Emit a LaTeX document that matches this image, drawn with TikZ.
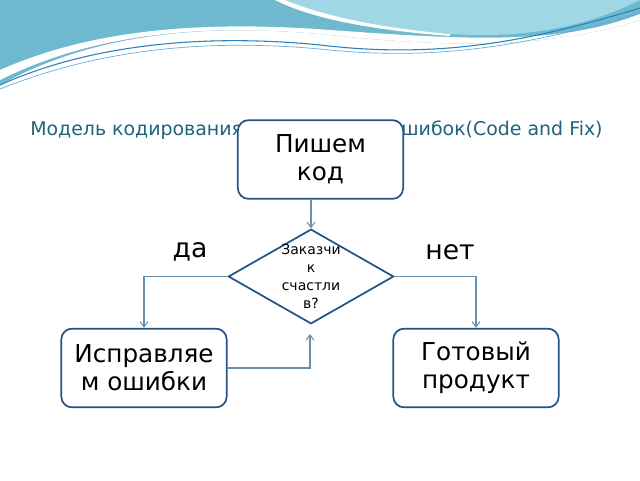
\documentclass[tikz,border=0pt]{standalone}
\usepackage{fontspec}
\setmainfont{DejaVu Sans}
\usetikzlibrary{shapes.geometric,arrows.meta}
\definecolor{boxb}{RGB}{35,85,135}
\definecolor{conn}{RGB}{105,145,175}
\definecolor{ttl}{RGB}{30,100,125}
\definecolor{wave1}{RGB}{110,185,205}
\definecolor{wave2}{RGB}{160,215,228}
\definecolor{wline}{RGB}{40,130,190}
\begin{document}
\begin{tikzpicture}[x=0.75pt,y=-0.75pt,
  box/.style={draw=boxb,line width=1.3pt,rounded corners=8pt,fill=white,minimum width=124pt,minimum height=59pt,align=center,font=\fontsize{18.5}{21}\selectfont,inner sep=1pt},
  conn/.style={draw=conn,line width=0.8pt},
  arr/.style={conn,-{Straight Barb[length=4pt,width=6pt]}}]
\useasboundingbox (0,0) rectangle (640,480);
\fill[white] (0,0) rectangle (640,480);
% waves
\fill[wave1] (0,0) -- (640,0) -- (640,20) .. controls (560,45) and (470,50) .. (330,35) .. controls (200,22) and (90,35) .. (0,85) -- cycle;
\fill[white] (0,70) .. controls (90,30) and (200,20) .. (330,30) .. controls (470,40) and (560,45) .. (640,14) -- (640,20) .. controls (560,45) and (470,50) .. (330,35) .. controls (200,22) and (90,35) .. (0,80) -- cycle;
\fill[wave2] (285,0) .. controls (320,15) and (380,28) .. (450,34) .. controls (540,40) and (600,20) .. (640,0) -- cycle;
\fill[white] (275,0) .. controls (310,18) and (370,30) .. (450,36) -- (450,34) .. controls (380,28) and (320,15) .. (285,0) -- cycle;
\draw[wline,line width=0.8pt] (0,85) .. controls (100,40) and (220,35) .. (320,45) .. controls (430,58) and (520,45) .. (640,8);
\draw[wline!70,line width=0.5pt] (0,89) .. controls (110,45) and (220,40) .. (320,49) .. controls (430,61) and (520,48) .. (640,13);
% title
\node[text=ttl,font=\fontsize{14.2}{16}\selectfont,anchor=west,inner sep=0pt] (title) at (30,130) {Модель кодирования и устранения ошибок(Code and Fix)};
% nodes
\node[box] (code) at (320.5,159.5) {Пишем\\код};
\node[draw=boxb,line width=1.3pt,fill=white,diamond,minimum width=124pt,minimum height=71pt,inner sep=0pt] (q) at (311,276.5) {};
\node[align=center,font=\fontsize{10.5}{13.5}\selectfont] (qt) at (311,276) {Заказчи\\к\\счастли\\в?};
\node[box] (fix) at (144,368) {Исправляе\\м ошибки};
\node[box] (done) at (476,368) {Готовый\\продукт};
\node[font=\fontsize{20}{22}\selectfont] (yes) at (190,252) {да};
\node[font=\fontsize{20}{22}\selectfont] (no) at (450,252) {нет};
\coordinate (back) at (310,334);
% connectors
\draw[arr] (code.south -| q.north) -- (q.north);
\draw[arr] (q.west) -| (fix.north);
\draw[arr] (q.east) -| (done.north);
\draw[arr] (fix.east) -| (back);
\end{tikzpicture}
\end{document}
